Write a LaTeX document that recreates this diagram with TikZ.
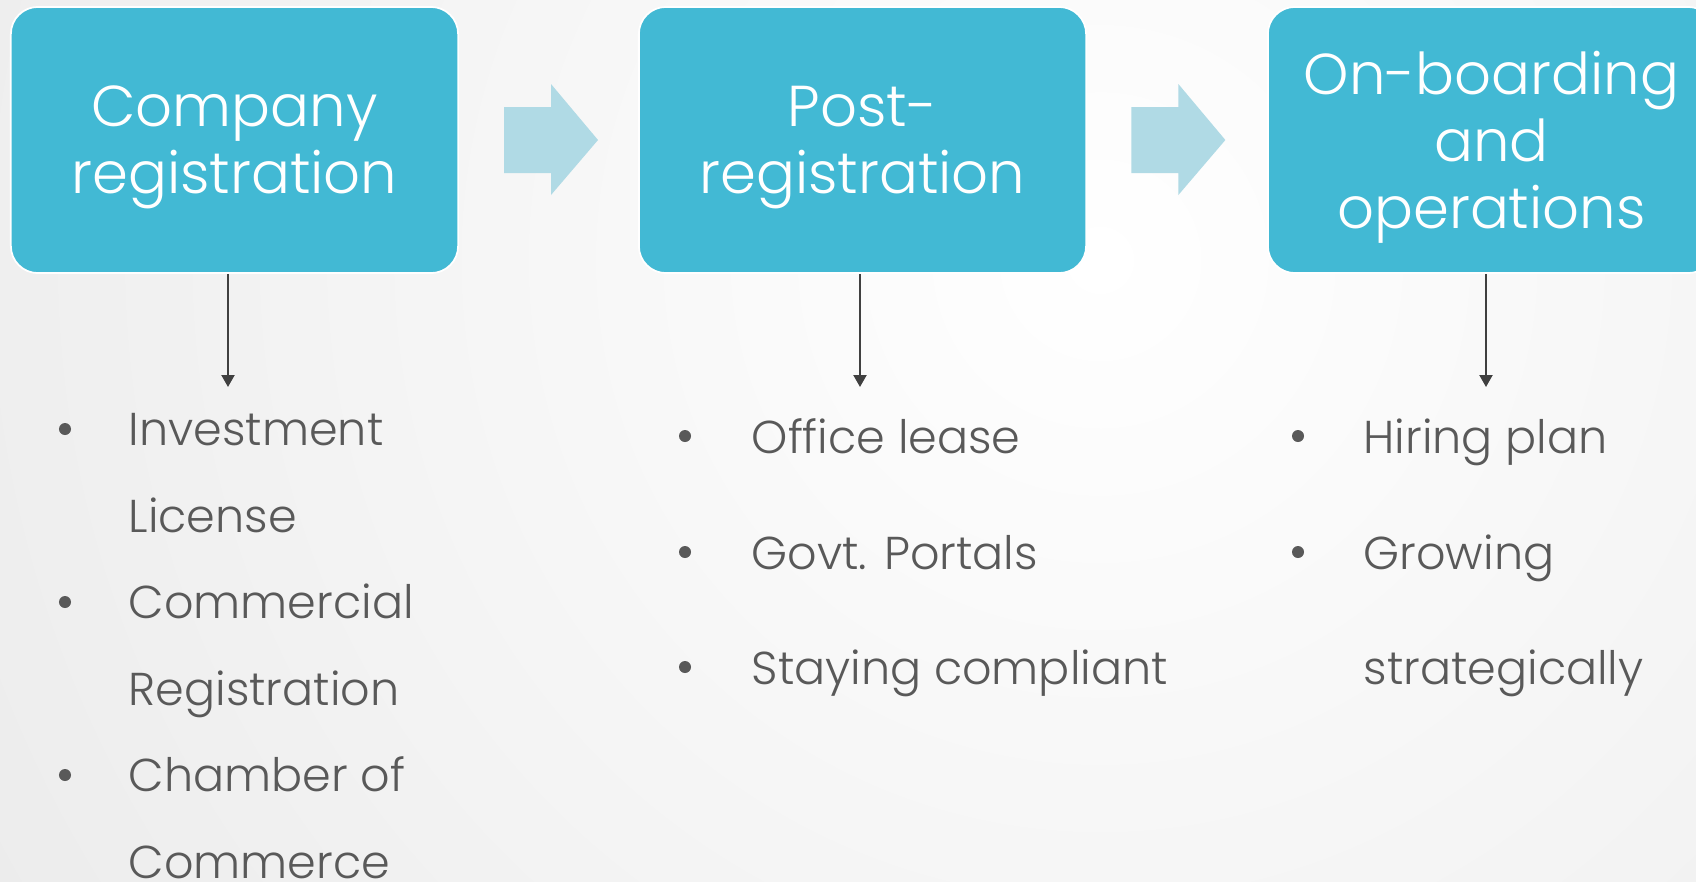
\documentclass[tikz,border=0pt]{standalone}
\usepackage{fontspec}
\setmainfont{Poppins Light}
\usetikzlibrary{positioning,arrows.meta}
\definecolor{boxblue}{RGB}{66,185,212}
\definecolor{chevron}{RGB}{176,218,229}
\definecolor{txtgray}{RGB}{89,89,89}
\definecolor{linegray}{RGB}{64,64,64}

\begin{document}
\begin{tikzpicture}[x=0.01cm,y=-0.01cm,>={Triangle[length=0.12cm,width=0.13cm]},
  stage/.style = {draw=white, line width=0.5pt, fill=boxblue, rounded corners=0.27cm, minimum width=4.47cm, minimum height=2.66cm, inner sep=0pt, text depth=0pt, text=white, align=center, font=\fontsize{16.4}{19}\selectfont},
  item/.style = {anchor=base west, inner sep=0pt, text=txtgray, align=left, font=\fontsize{13.1}{24.5}\selectfont},
  bullet/.style = {circle, fill=txtgray, inner sep=0pt, minimum size=0.12cm},
  link/.style = {->, draw=linegray, line width=0.6pt}]
\clip (0,0) rectangle (1696,881);
%Background
\shade[inner color=white, outer color=black!14] (1100,260) circle (24cm);

%Stages
\node (reg) at (234.5,140)[stage] {Company\\registration};
\node (post) at (862.5,140)[stage] {Post-\\registration};
\node (ops) at (1491.5,140)[stage] {On-boarding\\and\\operations};

%Chevrons between stages
\fill[chevron] (504,107) -- (551,107) -- (551,84) -- (598,140) -- (551,195) -- (551,173) -- (504,173) -- cycle;
\fill[chevron,xshift=6.27cm] (504,107) -- (551,107) -- (551,84) -- (598,140) -- (551,195) -- (551,173) -- (504,173) -- cycle;

%Links down to the lists
\coordinate (reg tip) at (228,387);
\coordinate (post tip) at (860,387);
\coordinate (ops tip) at (1486,387);
\draw[link] (reg.south -| reg tip) -- (reg tip);
\draw[link] (post.south -| post tip) -- (post tip);
\draw[link] (ops.south -| ops tip) -- (ops tip);

%Company registration list (anchored on the last line)
\node (b11) at (65,429)[bullet] {};
\node (i11) at (128,532)[item] {Investment\\License};
\node (b12) at (65,602)[bullet] {};
\node (i12) at (128,705)[item] {Commercial\\Registration};
\node (b13) at (65,775)[bullet] {};
\node (i13) at (128,878)[item] {Chamber of\\Commerce};

%Post-registration list
\node (b21) at (685,436)[bullet] {};
\node (i21) at (751,453)[item] {Office lease};
\node (b22) at (685,552)[bullet] {};
\node (i22) at (751,569)[item] {Govt. Portals};
\node (b23) at (685,667)[bullet] {};
\node (i23) at (751,684)[item] {Staying compliant};

%On-boarding list
\node (b31) at (1298,436)[bullet] {};
\node (i31) at (1363,453)[item] {Hiring plan};
\node (b32) at (1298,552)[bullet] {};
\node (i32) at (1363,684)[item,font=\fontsize{13.1}{32.7}\selectfont] {Growing\\strategically};
\end{tikzpicture}
\end{document}
